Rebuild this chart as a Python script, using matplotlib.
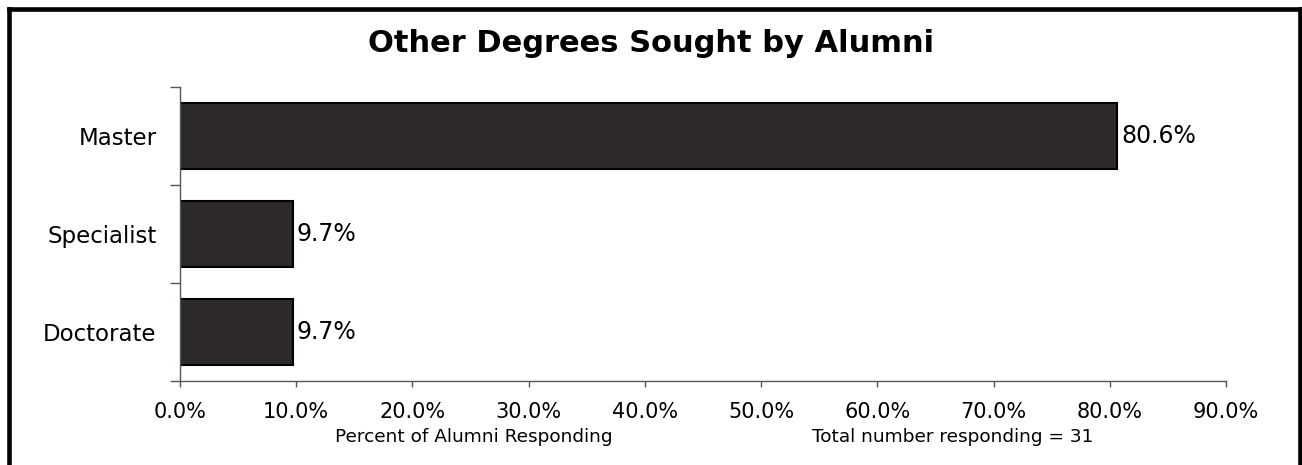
import matplotlib
matplotlib.use("Agg")
import matplotlib.pyplot as plt
from matplotlib.lines import Line2D
from matplotlib.ticker import FuncFormatter

degrees = ["Master", "Specialist", "Doctorate"]
percents = [80.6, 9.7, 9.7]
x_ticks = [0, 10, 20, 30, 40, 50, 60, 70, 80, 90]
title = "Other Degrees Sought by Alumni"
x_label = "Percent of Alumni Responding"
note = "Total number responding = 31"

W, H = 1302, 465
plt.rcParams["font.family"] = ["DejaVu Sans"]

fig = plt.figure(figsize=(W / 100, H / 100), dpi=100)
fig.patch.set_facecolor("white")
ax = fig.add_axes([180 / W, 1 - 381 / H, 1046 / W, (381 - 87) / H])

pos = list(range(len(degrees)))
ax.barh(pos, percents, height=0.67, color="#2d292a", edgecolor="black", linewidth=1.5)

for y, v in zip(pos, percents):
    ax.annotate(f"{v:.1f}%", xy=(v, y), xytext=(3, 0), textcoords="offset points",
                va="center", ha="left", fontsize=17, color="black")

ax.set_xlim(0, 90)
ax.set_ylim(len(degrees) - 0.5, -0.5)
ax.set_xticks(x_ticks)
ax.xaxis.set_major_formatter(FuncFormatter(lambda v, p: f"{v:.1f}%"))
ax.tick_params(axis="x", direction="out", length=4, width=1, color="#555555",
               labelsize=15, pad=11)

# category boundaries as ticks, names as minor tick labels
ax.set_yticks([i - 0.5 for i in range(len(degrees) + 1)])
ax.set_yticklabels([])
ax.set_yticks(pos, minor=True)
ax.set_yticklabels(degrees, minor=True, fontsize=16.5)
ax.tick_params(axis="y", which="major", direction="out", length=7, width=1, color="#555555")
ax.tick_params(axis="y", which="minor", length=0, pad=17)

for s in ["top", "right"]:
    ax.spines[s].set_visible(False)
for s in ["left", "bottom"]:
    ax.spines[s].set_color("#555555")
    ax.spines[s].set_linewidth(1)

fig.text(0.5, 1 - 44 / H, title, ha="center", va="center", fontsize=22, fontweight="bold")
fig.text(474 / W, 1 - 437 / H, x_label, ha="center", va="center", fontsize=13.3)
fig.text(953 / W, 1 - 437 / H, note, ha="center", va="center", fontsize=13.3)

# outer frame (left, top, right)
lw = 3.3
fig.add_artist(Line2D([9 / W, 9 / W], [0, 1 - 9 / H], transform=fig.transFigure, color="black", lw=lw))
fig.add_artist(Line2D([9 / W, 1299.5 / W], [1 - 9 / H, 1 - 9 / H], transform=fig.transFigure,
                      color="black", lw=lw, solid_capstyle="projecting"))
fig.add_artist(Line2D([1299.5 / W, 1299.5 / W], [0, 1 - 9 / H], transform=fig.transFigure, color="black", lw=lw))

fig.savefig("out.png", dpi=100)
